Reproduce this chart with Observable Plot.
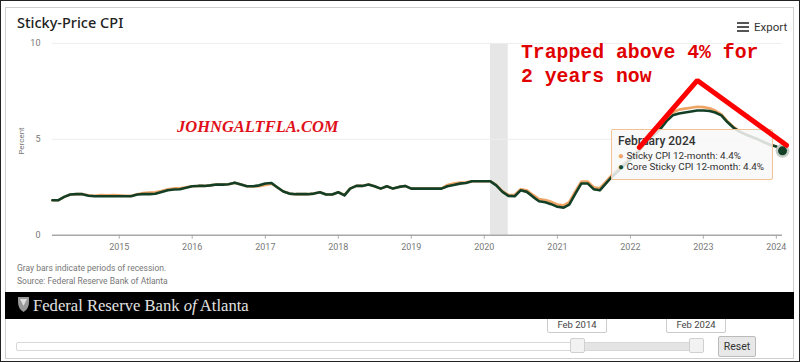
<!DOCTYPE html>
<html>
<head>
<meta charset="utf-8">
<script src="https://cdn.jsdelivr.net/npm/d3@7"></script>
<script src="https://cdn.jsdelivr.net/npm/@observablehq/plot@0.6"></script>
<style>
  html, body { margin: 0; padding: 0; background: #fff; }
  #frame { position: relative; width: 798px; height: 360px; border: 1px solid #222; overflow: hidden; background: #fff; font-family: Roboto, "Noto Sans", sans-serif; }
  #panel { position: absolute; left: 4px; top: 6px; width: 789px; height: 352px; border: 1px solid #cfcfcf; box-sizing: border-box; }
  .abs { position: absolute; white-space: nowrap; }
  #chart, #annot { position: absolute; left: -1px; top: -1px; }
  #annot { pointer-events: none; }
</style>
</head>
<body>
<div id="frame">
  <div id="panel"></div>
  <div id="chart" style="z-index:1"></div>
  <div class="abs" style="left:16px; top:11px; font-family:'Noto Sans'; font-size:14.5px; font-weight:500; color:#222; z-index:2">Sticky-Price CPI</div>
  <div class="abs" style="left:736px; top:19px; font-size:11.5px; color:#333; z-index:2">
    <span style="display:inline-block; width:12px; height:10px; vertical-align:-1px; margin-right:5px; background:linear-gradient(#555 0 2px, transparent 2px 4px, #555 4px 6px, transparent 6px 8px, #555 8px 10px)"></span>Export
  </div>
  <div class="abs" style="left:13px; top:140px; transform:translate(-50%,-50%) rotate(-90deg); transform-origin:center; font-size:8px; color:#777; z-index:2; margin-left:7px">Percent</div>
  <div class="abs" style="left:176px; top:116px; font-family:'Liberation Serif'; font-style:italic; font-weight:bold; font-size:16.5px; color:#e0101a; z-index:2">JOHNGALTFLA.COM</div>
  <div class="abs" style="left:520px; top:40px; font-family:'Liberation Mono'; font-weight:bold; font-size:19.8px; line-height:24px; color:#e00000; z-index:2">Trapped above 4% for<br>2 years now</div>
  <div id="tooltip" class="abs" style="left:610px; top:128px; width:162px; height:51px; box-sizing:border-box; border:1px solid #f2c296; border-radius:2px; background:rgba(248,248,248,0.86); z-index:2; font-family:Roboto; color:#333">
    <div class="abs" style="left:6px; top:4px; font-size:12px; font-weight:500; color:#333">February 2024</div>
    <div class="abs" style="left:6px; top:20px; font-size:9.9px"><span style="color:#eea465">●</span> Sticky CPI 12-month: 4.4%</div>
    <div class="abs" style="left:6px; top:31px; font-size:9.9px"><span style="color:#154a2c">●</span> Core Sticky CPI 12-month: 4.4%</div>
  </div>
  <div id="annot" style="z-index:3"></div>
  <div class="abs" style="left:16px; top:261px; font-size:8.5px; color:#777; line-height:12.5px">Gray bars indicate periods of recession.<br>Source: Federal Reserve Bank of Atlanta</div>
  <div class="abs" style="left:4px; top:291px; width:789px; height:27px; background:#000; z-index:2">
    <svg class="abs" style="left:13px; top:5px" width="11" height="15" viewBox="0 0 11 15"><path d="M0 0 L11 0 L11 5 Q11 12 5.5 15 Q0 12 0 5 Z" fill="#999"/><path d="M2 2 L9 2 L5.5 9 Z" fill="#ddd"/></svg>
    <div class="abs" style="left:28px; top:3.5px; font-family:'Liberation Serif'; font-size:16.6px; color:#e2e2e2">Federal Reserve Bank <i>of</i> Atlanta</div>
  </div>
  <div class="abs" style="left:15px; top:341px; width:685px; height:7px; border:1px solid #d8d8d8; border-radius:2px; background:#fff"></div>
  <div class="abs" style="left:577px; top:342px; width:118px; height:7px; background:#e4e4e4"></div>
  <div class="abs" style="left:569px; top:337px; width:13px; height:13px; border:1px solid #d0d0d0; border-radius:2px; background:#f2f2f2"></div>
  <div class="abs" style="left:688px; top:337px; width:13px; height:13px; border:1px solid #d0d0d0; border-radius:2px; background:#f2f2f2"></div>
  <div class="abs" style="left:546px; top:315px; width:58px; height:15px; border:1px solid #ccc; border-radius:2px; background:#fff; font-size:9.5px; color:#444; text-align:center; line-height:15px">Feb 2014</div>
  <div class="abs" style="left:665px; top:315px; width:58px; height:15px; border:1px solid #ccc; border-radius:2px; background:#fff; font-size:9.5px; color:#444; text-align:center; line-height:15px">Feb 2024</div>
  <div class="abs" style="left:717px; top:335px; width:36px; height:19px; border:1px solid #bbb; border-radius:2px; background:#e8e8e8; font-size:10.5px; color:#333; text-align:center; line-height:19px">Reset</div>
</div>
<script>
// Monthly observations, Feb 2014 .. Feb 2024 (12-month % change)
const startMonth = new Date(Date.UTC(2014, 1, 1));
const endMonth = new Date(Date.UTC(2024, 1, 1));
const months = d3.utcMonths(startMonth, new Date(Date.UTC(2024, 2, 1)));

const stickyCPI = [
  1.82, 1.82, 2.00, 2.12, 2.14, 2.14, 2.08, 2.06, 2.10, 2.08, 2.10, 2.08,
  2.06, 2.05, 2.14, 2.20, 2.22, 2.24, 2.30, 2.40, 2.44, 2.45, 2.50, 2.55,
  2.57, 2.57, 2.60, 2.64, 2.64, 2.66, 2.74, 2.64, 2.55, 2.54, 2.56, 2.62,
  2.68, 2.50, 2.28, 2.17, 2.14, 2.14, 2.14, 2.17, 2.24, 2.12, 2.12, 2.24,
  2.10, 2.43, 2.57, 2.57, 2.64, 2.55, 2.43, 2.55, 2.43, 2.52, 2.57, 2.43,
  2.43, 2.43, 2.43, 2.43, 2.43, 2.62, 2.70, 2.74, 2.76, 2.81, 2.81, 2.81,
  2.81, 2.62, 2.30, 2.10, 2.10, 2.40, 2.34, 2.10, 1.88, 1.84, 1.74, 1.60,
  1.56, 1.72, 2.30, 2.80, 2.80, 2.50, 2.45, 2.80, 3.15, 3.45, 3.75, 4.05,
  4.35, 4.70, 5.05, 5.35, 5.70, 6.10, 6.40, 6.55, 6.60, 6.65, 6.70, 6.68,
  6.62, 6.50, 6.30, 5.95, 5.65, 5.42, 5.25, 5.12, 5.00, 4.85, 4.72, 4.62,
  4.40
];
const coreStickyCPI = [
  1.82, 1.82, 2.00, 2.12, 2.14, 2.14, 2.06, 2.03, 2.03, 2.03, 2.03, 2.03,
  2.03, 2.03, 2.12, 2.14, 2.14, 2.16, 2.25, 2.34, 2.38, 2.40, 2.47, 2.55,
  2.57, 2.57, 2.60, 2.64, 2.64, 2.66, 2.74, 2.64, 2.55, 2.55, 2.60, 2.70,
  2.72, 2.50, 2.28, 2.17, 2.14, 2.14, 2.14, 2.17, 2.24, 2.12, 2.12, 2.24,
  2.08, 2.43, 2.57, 2.57, 2.64, 2.55, 2.43, 2.55, 2.43, 2.52, 2.57, 2.43,
  2.43, 2.43, 2.43, 2.43, 2.43, 2.55, 2.62, 2.69, 2.72, 2.81, 2.81, 2.81,
  2.81, 2.60, 2.26, 2.05, 2.03, 2.34, 2.26, 2.00, 1.77, 1.72, 1.62, 1.48,
  1.44, 1.60, 2.17, 2.70, 2.70, 2.40, 2.34, 2.70, 3.05, 3.35, 3.65, 3.95,
  4.25, 4.60, 4.95, 5.25, 5.55, 5.95, 6.25, 6.35, 6.40, 6.45, 6.50, 6.50,
  6.48, 6.40, 6.25, 5.90, 5.60, 5.40, 5.25, 5.12, 5.00, 4.85, 4.72, 4.62,
  4.40
];
const yTicks = [0, 5, 10];
const recession = [{start: new Date(Date.UTC(2020, 1, 1)), end: new Date(Date.UTC(2020, 3, 30))}];
// hand-drawn red annotation (date, percent)
const arrowDates = [new Date(Date.UTC(2022, 1, 15)), new Date(Date.UTC(2022, 11, 2)), new Date(Date.UTC(2024, 1, 21))];
const arrowValues = [4.58, 8.07, 4.69];

const rows = months.map((d, i) => ({date: d, sticky: stickyCPI[i], core: coreStickyCPI[i]}));
const last = rows[rows.length - 1];

const common = {
  width: 800, height: 362,
  marginLeft: 52, marginRight: 17, marginTop: 43, marginBottom: 127,
  x: {type: "utc", domain: [startMonth, endMonth]},
  y: {domain: [0, 10]}
};

const chart = Plot.plot({
  ...common,
  style: {fontFamily: "Roboto, sans-serif", fontSize: "9px", color: "#777", background: "transparent", overflow: "visible"},
  marks: [
    Plot.rect(recession, {x1: "start", x2: "end", y1: 0, y2: 10, fill: "#e6e6e6"}),
    Plot.ruleY([5, 10], {stroke: "#eeeeee", strokeWidth: 1}),
    Plot.axisY({ticks: yTicks, tickSize: 0, tickPadding: 12, label: null, fontSize: 9}),
    Plot.axisX({ticks: d3.utcYear.every(1), tickFormat: d3.utcFormat("%Y"), tickSize: 4, tickPadding: 4, label: null, stroke: "#aaa", fontSize: 9}),
    Plot.ruleY([0], {stroke: "#a8a8a8", strokeWidth: 1.5}),
    Plot.line(rows, {x: "date", y: "sticky", stroke: "#eea465", strokeWidth: 2.6, curve: "linear"}),
    Plot.line(rows, {x: "date", y: "core", stroke: "#123f25", strokeWidth: 2.6, curve: "linear"}),
    Plot.dot([last], {x: "date", y: "core", r: 7, fill: "#c4ccc6", stroke: "none"}),
    Plot.dot([last], {x: "date", y: "core", r: 4.5, fill: "#123f25", stroke: "none"})
  ]
});
document.getElementById("chart").appendChild(chart);

const annot = Plot.plot({
  ...common,
  x: {...common.x, axis: null},
  y: {...common.y, axis: null},
  style: {background: "transparent", overflow: "visible"},
  marks: [
    Plot.line(arrowDates.map((d, i) => ({date: d, value: arrowValues[i]})), {x: "date", y: "value", stroke: "#ff0000", strokeWidth: 5, strokeLinejoin: "miter", clip: false})
  ]
});
document.getElementById("annot").appendChild(annot);
</script>
</body>
</html>
